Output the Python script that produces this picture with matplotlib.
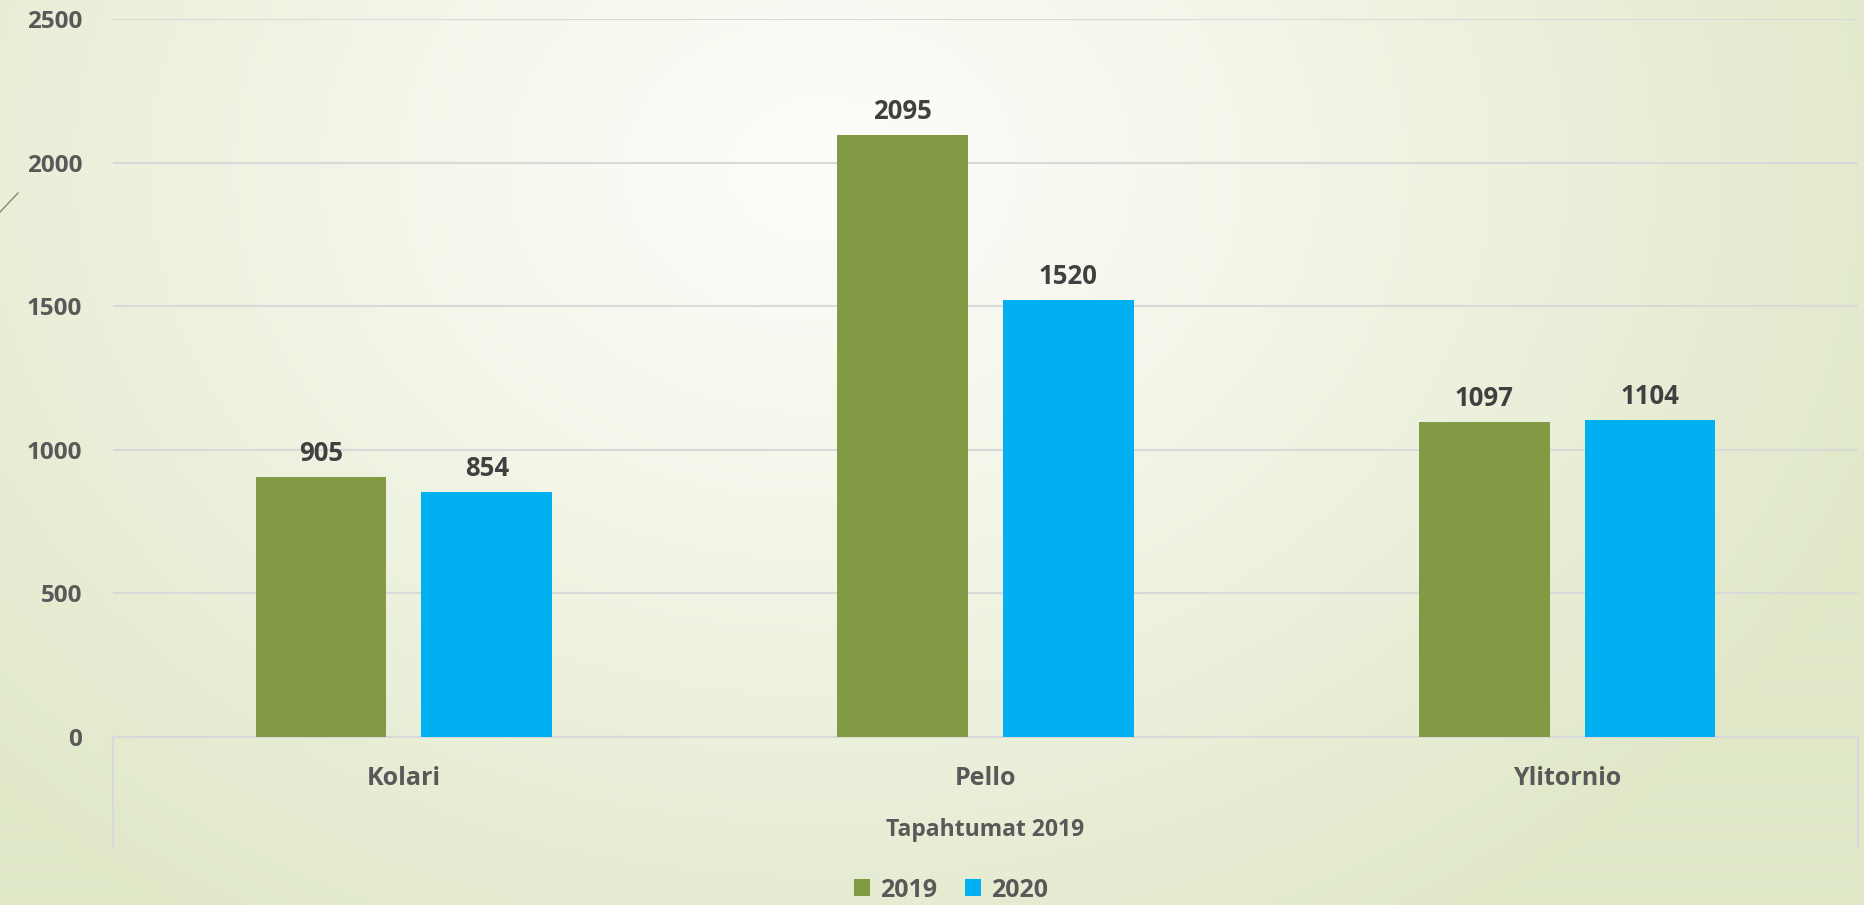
import numpy as np
import matplotlib
matplotlib.use("Agg")
import matplotlib.pyplot as plt
from matplotlib.lines import Line2D
from matplotlib.patches import Patch

categories = ["Kolari", "Pello", "Ylitornio"]
series_names = ["2019", "2020"]
values_2019 = [905, 2095, 1097]
values_2020 = [854, 1520, 1104]
y_ticks = [0, 500, 1000, 1500, 2000, 2500]
group_title = "Tapahtumat 2019"

colors = ["#839a44", "#00b0f0"]
text_gray = "#595959"
label_dark = "#404040"
grid_col = "#d9d9d9"
FONT = ["Open Sans", "DejaVu Sans"]

W, H = 1865, 905
fig = plt.figure(figsize=(W / 100, H / 100), dpi=100)

# background radial gradient
bg = fig.add_axes([0, 0, 1, 1], zorder=-10)
yy, xx = np.mgrid[0:H, 0:W]
cx, cy = 820, 170
d = np.sqrt(((xx - cx) / 1150.0) ** 2 + ((yy - cy) / 900.0) ** 2)
t = np.clip(d, 0, 1) ** 1.1
c0 = np.array([253, 253, 250]) / 255.0
c1 = np.array([224, 232, 200]) / 255.0
img = c0[None, None, :] * (1 - t[..., None]) + c1[None, None, :] * t[..., None]
bg.imshow(img, aspect="auto", extent=[0, 1, 0, 1], origin="upper")
bg.set_axis_off()

# decorative slide line
fig.add_artist(Line2D([0 / W, 18 / W], [1 - 212 / H, 1 - 193 / H],
                      color="#8a8a70", lw=1.0))

left, right = 113, 1858
top, zero = 19, 737
ax = fig.add_axes([left / W, 1 - zero / H, (right - left) / W, (zero - top) / H])
ax.patch.set_alpha(0)

x = np.arange(len(categories))
bw = 0.225
off = 0.1425
b1 = ax.bar(x - off, values_2019, bw, color=colors[0], zorder=3, label=series_names[0])
b2 = ax.bar(x + off, values_2020, bw, color=colors[1], zorder=3, label=series_names[1])

for bars in (b1, b2):
    for r in bars:
        ax.annotate(f"{int(r.get_height())}", (r.get_x() + r.get_width() / 2, r.get_height()),
                    xytext=(0, 17), textcoords="offset points", ha="center", va="center",
                    fontsize=18.5, fontweight="bold", color=label_dark, family=FONT)

ax.set_xlim(-0.5, len(categories) - 0.5)
ax.set_ylim(0, 2500)
ax.set_yticks(y_ticks)
ax.set_yticklabels([str(v) for v in y_ticks], fontsize=17.5, fontweight="bold",
                   color=text_gray, family=FONT)
ax.tick_params(axis="y", length=0, pad=22)
ax.yaxis.grid(True, color=grid_col, lw=1.5, zorder=0)
ax.set_axisbelow(True)
for s in ["top", "right", "left"]:
    ax.spines[s].set_visible(False)
ax.spines["bottom"].set_color(grid_col)
ax.spines["bottom"].set_linewidth(1.5)

ax.set_xticks(x)
ax.set_xticklabels(categories, fontsize=18, fontweight="bold", color=text_gray, family=FONT)
ax.tick_params(axis="x", length=0, pad=21)

# multi-level category box
box_bottom = 848
for xf in (left, right):
    fig.add_artist(Line2D([xf / W, xf / W], [1 - zero / H, 1 - box_bottom / H],
                          color=grid_col, lw=1.5))
fig.text((left + right) / 2 / W, 1 - 830 / H, group_title, ha="center", va="center",
         fontsize=16.5, fontweight="bold", color=text_gray, family=FONT)

handles = [Patch(facecolor=colors[0]), Patch(facecolor=colors[1])]
leg = fig.legend(handles, series_names, loc="center", bbox_to_anchor=(951 / W, 1 - 890 / H),
                 ncol=2, frameon=False, handlelength=0.65, handleheight=0.65,
                 handletextpad=0.4, columnspacing=1.1,
                 prop={"family": FONT, "weight": "bold", "size": 18})
for tx in leg.get_texts():
    tx.set_color(text_gray)

fig.savefig("out.png", dpi=100)
